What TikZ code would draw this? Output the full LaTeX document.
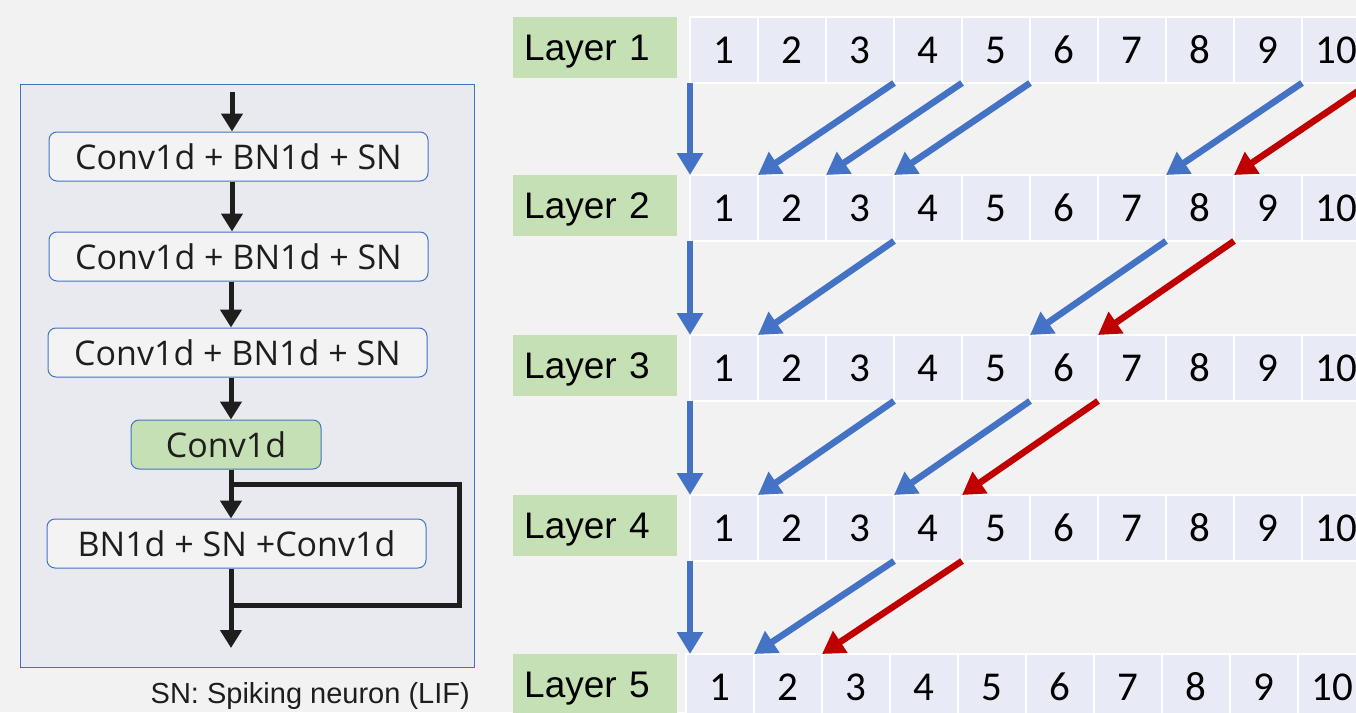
\documentclass[tikz,border=0pt]{standalone}
\usepackage{fontspec}
\setmainfont{Liberation Sans}
\newfontfamily\boxfont{Open Sans}
\newfontfamily\numfont{Carlito}
\usetikzlibrary{arrows.meta}
\definecolor{bg}{HTML}{F2F2F2}
\definecolor{panelc}{HTML}{E9EAEF}
\definecolor{boxc}{HTML}{F3F3F4}
\definecolor{cellc}{HTML}{E8EAF5}
\definecolor{labc}{HTML}{C5E0B4}
\definecolor{bl}{HTML}{4472C4}
\definecolor{rd}{HTML}{C00000}
\definecolor{ink}{HTML}{1E1E1E}
\begin{document}
\begin{tikzpicture}[x=1pt,y=-1pt,
  cell/.style={draw=white, line width=2.5pt, fill=cellc, minimum width=68pt, minimum height=66pt,
    inner sep=0pt, outer sep=0pt, anchor=north west, text=black,
    font=\numfont\fontsize{41}{41}\selectfont},
  lay/.style={fill=labc, text width=142pt, inner xsep=11pt, inner ysep=0pt, minimum height=61pt,
    text height=30pt, text depth=5pt,
    align=left, anchor=north west, text=black, font=\fontsize{37}{40}\selectfont},
  blk/.style={draw=bl, line width=1pt, rounded corners=8pt, fill=boxc, minimum height=49pt,
    inner sep=0pt, text=ink, font=\boxfont\fontsize{34}{36}\selectfont},
  garrow/.style={draw=bl, line width=6.5pt, -{Triangle[length=22pt,width=25pt]}},
  rarrow/.style={draw=rd, line width=6.5pt, -{Triangle[length=22pt,width=25pt]}},
  karrow/.style={draw=ink, line width=5pt, -{Triangle[length=18pt,width=21pt]}},
  kline/.style={draw=ink, line width=5pt, line join=miter}
]
\useasboundingbox (0,0) rectangle (1356,712);
\fill[bg] (0,0) rectangle (1356,712);

% ---------- left panel ----------
\node[draw=bl, line width=1pt, fill=panelc, minimum width=454pt, minimum height=583pt,
      inner sep=0pt, anchor=north west] (pnl) at (20,84) {};
\node[blk, minimum width=379pt] (b1) at (238.5,156.5) {Conv1d + BN1d + SN};
\node[blk, minimum width=379pt] (b2) at (238.5,256.5) {Conv1d + BN1d + SN};
\node[blk, minimum width=379pt] (b3) at (237.5,352.5) {Conv1d + BN1d + SN};
\node[blk, minimum width=190pt, fill=labc] (b4) at (226,444.5) {Conv1d};
\node[blk, minimum width=379pt] (b5) at (236.5,543.5) {BN1d + SN +Conv1d};
\coordinate (in) at (232,92);
\coordinate (out) at (231,648);
\coordinate (s1) at (231,484);
\coordinate (s2) at (459,605);
\coordinate (s3) at (231,605);
\draw[karrow] (in) -- (in |- b1.north);
\draw[karrow] (b1.south -| in) -- (b2.north -| in);
\draw[karrow] (b2.south -| s1) -- (b3.north -| s1);
\draw[karrow] (b3.south -| s1) -- (b4.north -| s1);
\draw[karrow] (b4.south -| s1) -- (b5.north -| s1);
\draw[kline] (s1) -| (s2) -- (s3);
\draw[karrow] (b5.south -| out) -- (out);
\node[anchor=base east, inner sep=0pt, text=ink, font=\fontsize{29}{30}\selectfont] (cap) at (470,703)
  {SN: Spiking neuron (LIF)};

% ---------- layers ----------
\foreach \r/\y/\x in {1/17/690,2/175/690,3/335/690,4/495/690,5/654/686} {
  \node[lay] (L\r) at (513,\y) {Layer \r};
  \foreach \c in {1,...,10} {
    \node[cell] (c\r-\c) at ({\x+68*(\c-1)},\y) {\c};
  }
}

% layer 1 -> 2
\draw[garrow] (c1-1.south west) -- (c2-1.north west);
\draw[garrow] (c1-3.south east) -- (c2-1.north east);
\draw[garrow] (c1-4.south east) -- (c2-2.north east);
\draw[garrow] (c1-5.south east) -- (c2-3.north east);
\draw[garrow] (c1-9.south east) -- (c2-7.north east);
\draw[rarrow] (c1-10.south east) -- (c2-8.north east);
% layer 2 -> 3
\draw[garrow] (c2-1.south west) -- (c3-1.north west);
\draw[garrow] (c2-3.south east) -- (c3-1.north east);
\draw[garrow] (c2-7.south east) -- (c3-5.north east);
\draw[rarrow] (c2-8.south east) -- (c3-6.north east);
% layer 3 -> 4
\draw[garrow] (c3-1.south west) -- (c4-1.north west);
\draw[garrow] (c3-3.south east) -- (c4-1.north east);
\draw[garrow] (c3-5.south east) -- (c4-3.north east);
\draw[rarrow] (c3-6.south east) -- (c4-4.north east);
% layer 4 -> 5
\draw[garrow] (c4-1.south west) -- (c4-1.south west |- c5-1.north west);
\draw[garrow] (c4-3.south east) -- (c5-1.north east);
\draw[rarrow] (c4-4.south east) -- (c5-2.north east);
\end{tikzpicture}
\end{document}
